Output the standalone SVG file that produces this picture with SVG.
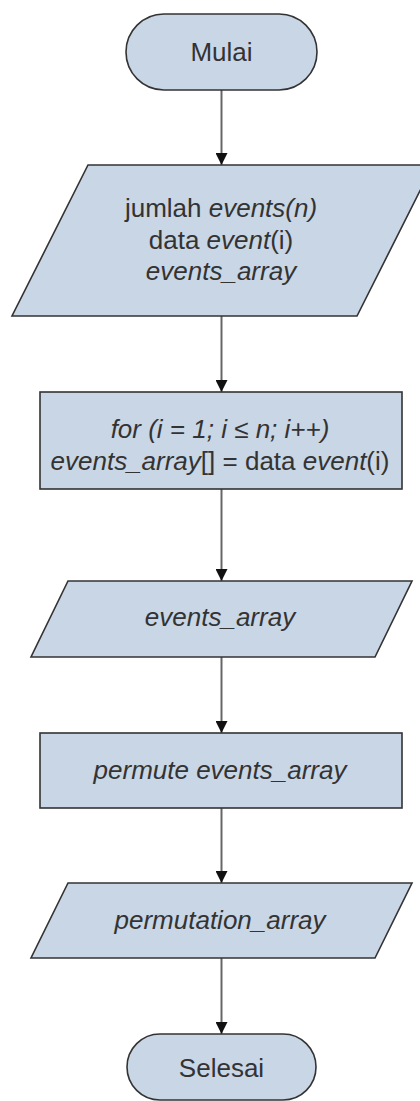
<svg xmlns="http://www.w3.org/2000/svg" width="420" height="1101" viewBox="0 0 420 1101">
  <defs>
    <marker id="arrow" viewBox="0 0 12 12" refX="12" refY="6" markerWidth="12" markerHeight="12" markerUnits="userSpaceOnUse" orient="auto">
      <path d="M0,0 L12,6 L0,12 Z" fill="#111"/>
    </marker>
    <style>
      .shape { fill: #c9d6e5; stroke: #333; stroke-width: 1.6; }
      .label { font-family: "Liberation Sans", Arial, sans-serif; font-size: 26px; fill: #333; text-anchor: middle; }
      .it { font-style: italic; }
      .edge { stroke: #666; stroke-width: 2; fill: none; marker-end: url(#arrow); }
    </style>
  </defs>

  <rect width="420" height="1101" fill="#ffffff"/>

  <!-- connectors -->
  <g id="connectors">
    <line class="edge" x1="221.5" y1="90" x2="221.5" y2="165"/>
    <line class="edge" x1="221.5" y1="316" x2="221.5" y2="392"/>
    <line class="edge" x1="221.5" y1="489" x2="221.5" y2="581"/>
    <line class="edge" x1="221.5" y1="657" x2="221.5" y2="733"/>
    <line class="edge" x1="221.5" y1="808" x2="221.5" y2="883"/>
    <line class="edge" x1="221.5" y1="958" x2="221.5" y2="1034"/>
  </g>

  <!-- start terminator -->
  <g id="start">
    <rect class="shape" x="126" y="14" width="191" height="76" rx="38" ry="38"/>
    <text class="label" x="221.5" y="61">Mulai</text>
  </g>

  <!-- input: count and event data -->
  <g id="input-events">
    <polygon class="shape" points="88,165 433,165 357,316 12,316"/>
    <text class="label" x="221" y="217">jumlah <tspan class="it">events(n)</tspan></text>
    <text class="label" x="221" y="249">data <tspan class="it">event</tspan>(i)</text>
    <text class="label it" x="221" y="280">events_array</text>
  </g>

  <!-- loop filling the array -->
  <g id="fill-loop">
    <rect class="shape" x="40" y="392" width="362" height="97"/>
    <text class="label it" x="220" y="438">for (i = 1; i ≤ n; i++)</text>
    <text class="label" x="220" y="470"><tspan class="it">events_array</tspan>[] = data <tspan class="it">event</tspan>(i)</text>
  </g>

  <!-- output array -->
  <g id="events-array">
    <polygon class="shape" points="68,581 412,581 375,657 31,657"/>
    <text class="label it" x="220" y="626">events_array</text>
  </g>

  <!-- permutation step -->
  <g id="permute">
    <rect class="shape" x="40" y="733" width="362" height="75"/>
    <text class="label it" x="220" y="779">permute events_array</text>
  </g>

  <!-- output permutations -->
  <g id="permutation-array">
    <polygon class="shape" points="68,883 412,883 375,958 31,958"/>
    <text class="label it" x="220" y="929">permutation_array</text>
  </g>

  <!-- end terminator -->
  <g id="end">
    <rect class="shape" x="127" y="1034" width="189" height="66" rx="33" ry="33"/>
    <text class="label" x="221.5" y="1077">Selesai</text>
  </g>
</svg>
